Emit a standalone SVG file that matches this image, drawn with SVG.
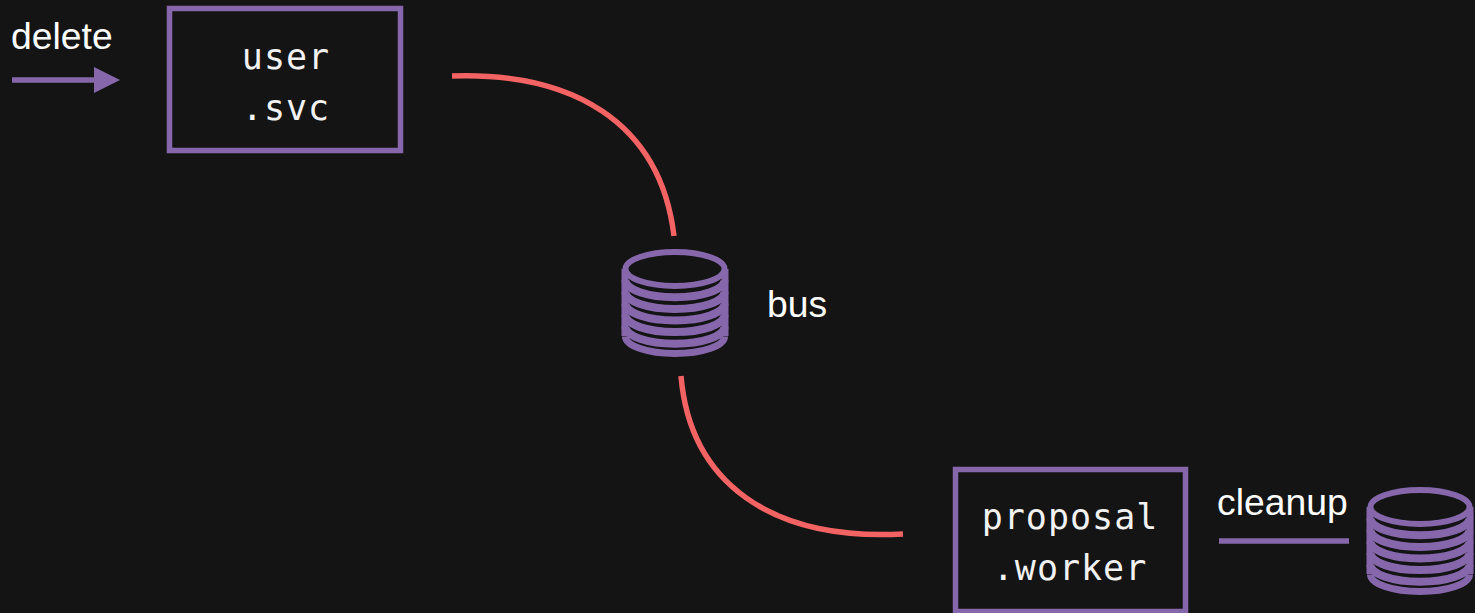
<svg xmlns="http://www.w3.org/2000/svg" width="1475" height="613" viewBox="0 0 1475 613">
<defs>
<g id="db" fill="none" stroke="#8767ab">
<path d="M-50 0 V67 M50 0 V67" stroke-width="7"/>
<g stroke-width="8">
<path d="M-49.500 67.500 A49.500 17 0 0 0 49.500 67.500" stroke-width="7"/>
<path d="M-49.500 57.700 A49.500 17 0 0 0 49.500 57.700"/>
<path d="M-49.500 46.100 A49.500 17 0 0 0 49.500 46.100"/>
<path d="M-49.500 34.500 A49.500 17 0 0 0 49.500 34.500"/>
<path d="M-49.500 22.900 A49.500 17 0 0 0 49.500 22.900"/>
<path d="M-49.500 11.300 A49.500 17 0 0 0 49.500 11.300"/>
</g>
<ellipse cx="0" cy="0" rx="49.500" ry="17" stroke-width="6" fill="#141414"/>
</g>
</defs>
<style>
.box{fill:#141414;stroke:#8767ab;stroke-width:5.500}
.mono{font-family:"DejaVu Sans Mono","Liberation Mono",monospace;font-size:35px;fill:#f2f2f2;text-anchor:middle;letter-spacing:1px}
.lab{font-family:"Liberation Sans",Arial,sans-serif;font-size:37.300px;fill:#fff}
.red{fill:none;stroke:#f46363;stroke-width:5.500}
</style>
<rect width="1475" height="613" fill="#141414"/>
<g id="connectors">
<path class="red" d="M452 76 C570 72 660 120 674 236"/>
<path class="red" d="M681 376 C690 482 770 541 903 534"/>
<path d="M12 80 H96" stroke="#8767ab" stroke-width="5.500" fill="none"/>
<path d="M94 67 L120 80 L94 93 Z" fill="#8767ab"/>
<path d="M1219 541 H1349" stroke="#8767ab" stroke-width="5.500" fill="none"/>
</g>
<g id="delete-label"><text class="lab" x="11" y="49">delete</text></g>
<g id="user-svc">
<rect class="box" x="169.500" y="8.500" width="231" height="142"/>
<text class="mono" x="286" y="69">user</text>
<text class="mono" x="286" y="120">.svc</text>
</g>
<g id="bus">
<use href="#db" x="675" y="269"/>
<text class="lab" x="767" y="317">bus</text>
</g>
<g id="proposal-worker">
<rect class="box" x="955.500" y="469.500" width="230" height="142"/>
<text class="mono" x="1070" y="529">proposal</text>
<text class="mono" x="1070" y="580">.worker</text>
</g>
<g id="cleanup">
<text class="lab" x="1217" y="515">cleanup</text>
<use href="#db" x="1420" y="507"/>
</g>
</svg>
